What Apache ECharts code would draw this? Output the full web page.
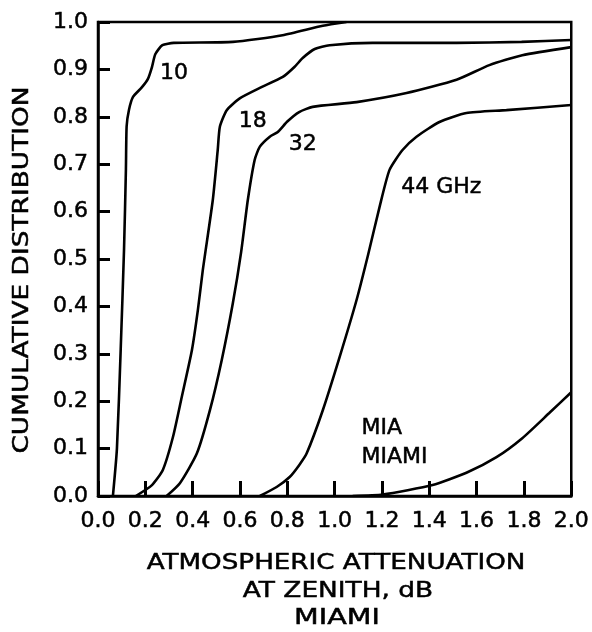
<!DOCTYPE html>
<html>
<head>
<meta charset="utf-8">
<script src="https://cdn.jsdelivr.net/npm/echarts@6/dist/echarts.min.js"></script>
<style>html,body{margin:0;padding:0;background:#fff}#c{width:592px;height:632px}</style>
</head>
<body>
<div id="c"></div>
<script>
// ---- data (attenuation dB, cumulative distribution) ----
const ghz10 = [[0.063,0],[0.08,0.1],[0.096,0.31],[0.11,0.52],[0.118,0.69],[0.121,0.78],[0.131,0.815],[0.148,0.842],[0.185,0.862],[0.211,0.88],[0.228,0.905],[0.242,0.932],[0.272,0.951],[0.32,0.956],[0.57,0.958],[0.78,0.972],[0.95,0.992],[1.05,1.0]];
const ghz18 = [[0.16,0],[0.228,0.023],[0.274,0.055],[0.317,0.125],[0.354,0.209],[0.397,0.308],[0.422,0.392],[0.443,0.477],[0.485,0.624],[0.506,0.73],[0.515,0.779],[0.544,0.814],[0.599,0.839],[0.684,0.861],[0.781,0.884],[0.83,0.905],[0.865,0.924],[0.916,0.943],[0.979,0.951],[1.16,0.956],[1.515,0.956],[1.79,0.958],[2.0,0.962]];
const ghz32 = [[0.29,0],[0.346,0.027],[0.418,0.09],[0.473,0.181],[0.523,0.287],[0.57,0.407],[0.605,0.515],[0.633,0.624],[0.662,0.709],[0.684,0.737],[0.726,0.758],[0.76,0.768],[0.8,0.79],[0.85,0.81],[0.907,0.821],[1.093,0.831],[1.304,0.85],[1.515,0.878],[1.654,0.909],[1.793,0.93],[2.0,0.947]];
const ghz44 = [[0.684,0],[0.755,0.019],[0.81,0.04],[0.85,0.065],[0.882,0.09],[0.95,0.181],[1.021,0.293],[1.093,0.414],[1.142,0.51],[1.19,0.61],[1.232,0.688],[1.287,0.73],[1.346,0.758],[1.443,0.789],[1.557,0.808],[1.726,0.814],[2.0,0.825]];
const miaCurve = [[1.076,0],[1.203,0.003],[1.414,0.023],[1.557,0.049],[1.684,0.082],[1.793,0.122],[1.907,0.175],[2.0,0.219]];

const curveLabels = ['10', '18', '32', '44 GHz', 'MIA\nMIAMI'];
const labelX = [0.321, 0.654, 0.865, 1.451, 1.114];
const labelY = [0.892, 0.791, 0.743, 0.652, 0.113];

const xTitleLines = ['ATMOSPHERIC ATTENUATION', 'AT ZENITH, dB', 'MIAMI'];
const yTitle = 'CUMULATIVE DISTRIBUTION';

const FONT = '"DejaVu Sans", "Liberation Sans", sans-serif';
const TB = 0.5;
const curves = [ghz10, ghz18, ghz32, ghz44, miaCurve];

const series = curves.map((d, i) => ({
  type: 'line',
  data: d,
  showSymbol: false,
  smooth: 0.2,
  lineStyle: { color: '#000', width: 2.6 },
  markPoint: {
    symbol: 'circle',
    symbolSize: 0,
    data: [{ coord: [labelX[i], labelY[i]], value: curveLabels[i] }],
    label: {
      show: true,
      position: 'inside',
      formatter: () => curveLabels[i],
      color: '#000',
      fontSize: 22,
      fontFamily: FONT,
      textBorderColor: '#000', textBorderWidth: TB,
      align: i === 4 ? 'left' : 'center',
      verticalAlign: 'middle',
      lineHeight: 29
    }
  }
}));

const chart = echarts.init(document.getElementById('c'), null, { renderer: 'canvas' });
chart.setOption({
  animation: false,
  grid: {
    left: 98, right: 20, top: 22, bottom: 136,
    show: true, borderColor: '#000', borderWidth: 2.5
  },
  xAxis: {
    type: 'value', min: 0, max: 2, interval: 0.2,
    splitLine: { show: false },
    axisLine: { show: true, lineStyle: { color: '#000', width: 2.5 } },
    axisTick: { show: true, inside: true, length: 15, lineStyle: { color: '#000', width: 3 } },
    axisLabel: { color: '#000', fontSize: 22, fontFamily: FONT, margin: 14, textBorderColor: '#000', textBorderWidth: TB, formatter: v => v.toFixed(1) }
  },
  yAxis: {
    type: 'value', min: 0, max: 1, interval: 0.1,
    splitLine: { show: false },
    axisLine: { show: true, lineStyle: { color: '#000', width: 2.5 } },
    axisTick: { show: true, inside: true, length: 12, lineStyle: { color: '#000', width: 3 } },
    axisLabel: { color: '#000', fontSize: 22, fontFamily: FONT, margin: 10, textBorderColor: '#000', textBorderWidth: TB, formatter: v => v.toFixed(1) }
  },
  graphic: [
    { type: 'text', x: 336, y: 563, scaleX: 1.19, silent: true,
      style: { text: xTitleLines[0], align: 'center', verticalAlign: 'middle', font: '22px ' + FONT, fill: '#000', stroke: '#000', lineWidth: TB } },
    { type: 'text', x: 338, y: 591, scaleX: 1.2, silent: true,
      style: { text: xTitleLines[1], align: 'center', verticalAlign: 'middle', font: '22px ' + FONT, fill: '#000', stroke: '#000', lineWidth: TB } },
    { type: 'text', x: 337, y: 618, scaleX: 1.3, silent: true,
      style: { text: xTitleLines[2], align: 'center', verticalAlign: 'middle', font: '22px ' + FONT, fill: '#000', stroke: '#000', lineWidth: TB } },
    { type: 'text', x: 22, y: 270, rotation: Math.PI / 2, scaleX: 1.2, silent: true,
      style: { text: yTitle, align: 'center', verticalAlign: 'middle', font: '22px ' + FONT, fill: '#000', stroke: '#000', lineWidth: TB } }
  ],
  series: series
});
</script>
</body>
</html>
